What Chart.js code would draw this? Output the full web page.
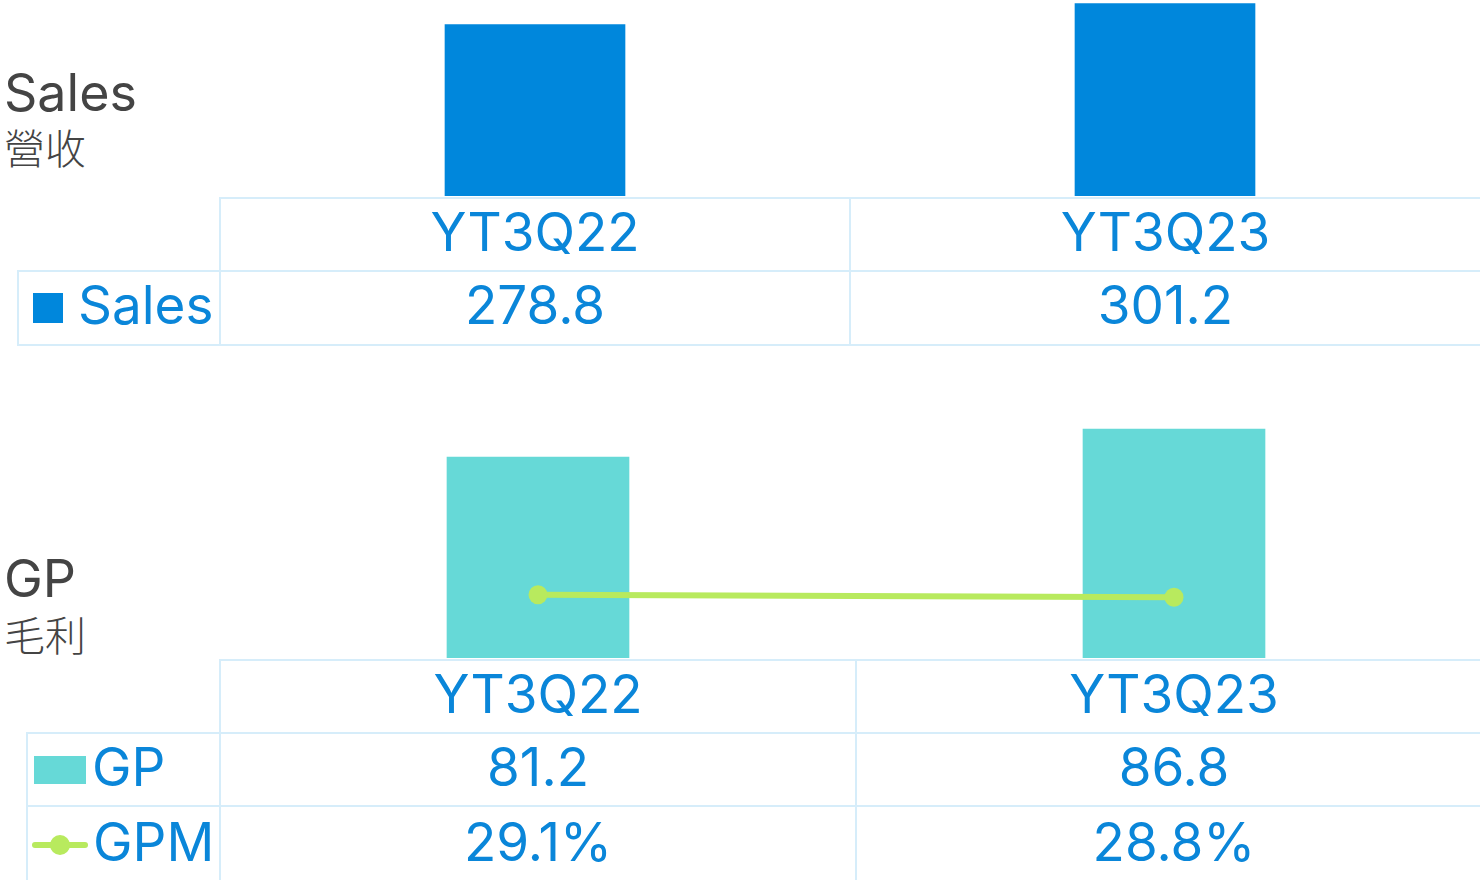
<!DOCTYPE html>
<html>
<head>
<meta charset="utf-8">
<script src="https://cdn.jsdelivr.net/npm/chart.js@4"></script>
<style>
    html, body { margin: 0; padding: 0; background: #fff; }
    body { width: 1480px; height: 880px; overflow: hidden; position: relative; font-family: Inter, "Noto Sans", sans-serif; }
    canvas { position: absolute; }
    .cell {
        position: absolute; box-sizing: border-box; border: 2px solid #D6EDFA;
        display: flex; align-items: center; justify-content: center;
        color: #0A86D9; font-size: 53px; white-space: nowrap; padding-bottom: 6px;
    }
    .legendCell { justify-content: flex-start; }
    .title { position: absolute; left: 4px; color: #444; font-size: 52px; line-height: 1; }
    .sub { position: absolute; left: 4px; color: #444; font-size: 41px; line-height: 1; font-weight: 300; font-family: "Noto Sans CJK TC", sans-serif; }
</style>
</head>
<body>
<div class="title" style="top:67px">Sales</div>
<div class="sub" style="top:126px">營收</div>
<canvas id="salesChart" width="1260" height="196" style="left:220px;top:0px"></canvas>

<div class="title" style="top:553px">GP</div>
<div class="sub" style="top:613px">毛利</div>
<canvas id="gpChart" width="1272" height="268" style="left:220px;top:390px"></canvas>

<div id="tables"></div>

<script>
const categories = ['YT3Q22', 'YT3Q23'];
const salesValues = [278.8, 301.2];
const gpValues = [81.2, 86.8];
const gpmValues = [29.1, 28.8];

const SALES_COLOR = '#0087DC';
const GP_COLOR = '#66D9D7';
const GPM_COLOR = '#B8EA5E';

const hiddenAxis = (min, max) => ({ display: false, min: min, max: max });

new Chart(document.getElementById('salesChart'), {
    type: 'bar',
    data: {
        labels: categories,
        datasets: [{
            label: 'Sales',
            data: salesValues,
            backgroundColor: SALES_COLOR,
            barThickness: 180,
        }],
    },
    options: {
        responsive: false,
        animation: false,
        devicePixelRatio: 1,
        layout: { padding: 0, autoPadding: false },
        plugins: { legend: { display: false }, tooltip: { enabled: false } },
        scales: {
            x: { display: false, offset: true },
            y: hiddenAxis(96, 305),
        },
    },
});

new Chart(document.getElementById('gpChart'), {
    data: {
        labels: categories,
        datasets: [{
            type: 'line',
            label: 'GPM',
            data: gpmValues,
            yAxisID: 'y2',
            borderColor: GPM_COLOR,
            backgroundColor: GPM_COLOR,
            borderWidth: 6,
            pointRadius: 9.5,
            pointBorderWidth: 0,
            clip: false,
            order: 0,
        }, {
            type: 'bar',
            label: 'GP',
            data: gpValues,
            backgroundColor: GP_COLOR,
            barThickness: 182,
            order: 1,
        }],
    },
    options: {
        responsive: false,
        animation: false,
        devicePixelRatio: 1,
        layout: { padding: 0, autoPadding: false },
        plugins: { legend: { display: false }, tooltip: { enabled: false } },
        scales: {
            x: { display: false, offset: true },
            y: hiddenAxis(41, 94.6),
            y2: hiddenAxis(21.5, 53.66),
        },
    },
});

// data tables under the charts
const tables = document.getElementById('tables');
function cell(x1, y1, x2, y2, html, cls) {
    const d = document.createElement('div');
    d.className = 'cell' + (cls ? ' ' + cls : '');
    d.style.left = (x1 - 1) + 'px';
    d.style.top = (y1 - 1) + 'px';
    d.style.width = (x2 - x1 + 2) + 'px';
    d.style.height = (y2 - y1 + 2) + 'px';
    d.innerHTML = html;
    tables.appendChild(d);
}

const salesCols = [[220, 850], [850, 1481]];
categories.forEach((c, i) => cell(salesCols[i][0], 198, salesCols[i][1], 271, c));
cell(18, 271, 220, 345, '<span style="display:inline-block;width:30px;height:30px;background:' + SALES_COLOR + ';margin:6px 15px 0 14px"></span>Sales', 'legendCell');
salesValues.forEach((v, i) => cell(salesCols[i][0], 271, salesCols[i][1], 345, v.toFixed(1)));

const gpCols = [[220, 856], [856, 1492]];
categories.forEach((c, i) => cell(gpCols[i][0], 660, gpCols[i][1], 733, c));
cell(27, 733, 220, 806, '<span style="display:inline-block;width:52px;height:28px;background:' + GP_COLOR + ';margin:6px 6px 0 6px"></span>GP', 'legendCell');
gpValues.forEach((v, i) => cell(gpCols[i][0], 733, gpCols[i][1], 806, v.toFixed(1)));
cell(27, 806, 220, 884, '<span style="position:relative;display:inline-block;width:56px;height:20px;margin:6px 5px 0 4px">' +
    '<span style="position:absolute;left:0;top:7px;width:56px;height:6px;border-radius:3px;background:' + GPM_COLOR + '"></span>' +
    '<span style="position:absolute;left:18px;top:0px;width:20px;height:20px;border-radius:50%;background:' + GPM_COLOR + '"></span></span>GPM', 'legendCell');
gpmValues.forEach((v, i) => cell(gpCols[i][0], 806, gpCols[i][1], 884, v.toFixed(1) + '%'));
</script>
</body>
</html>
